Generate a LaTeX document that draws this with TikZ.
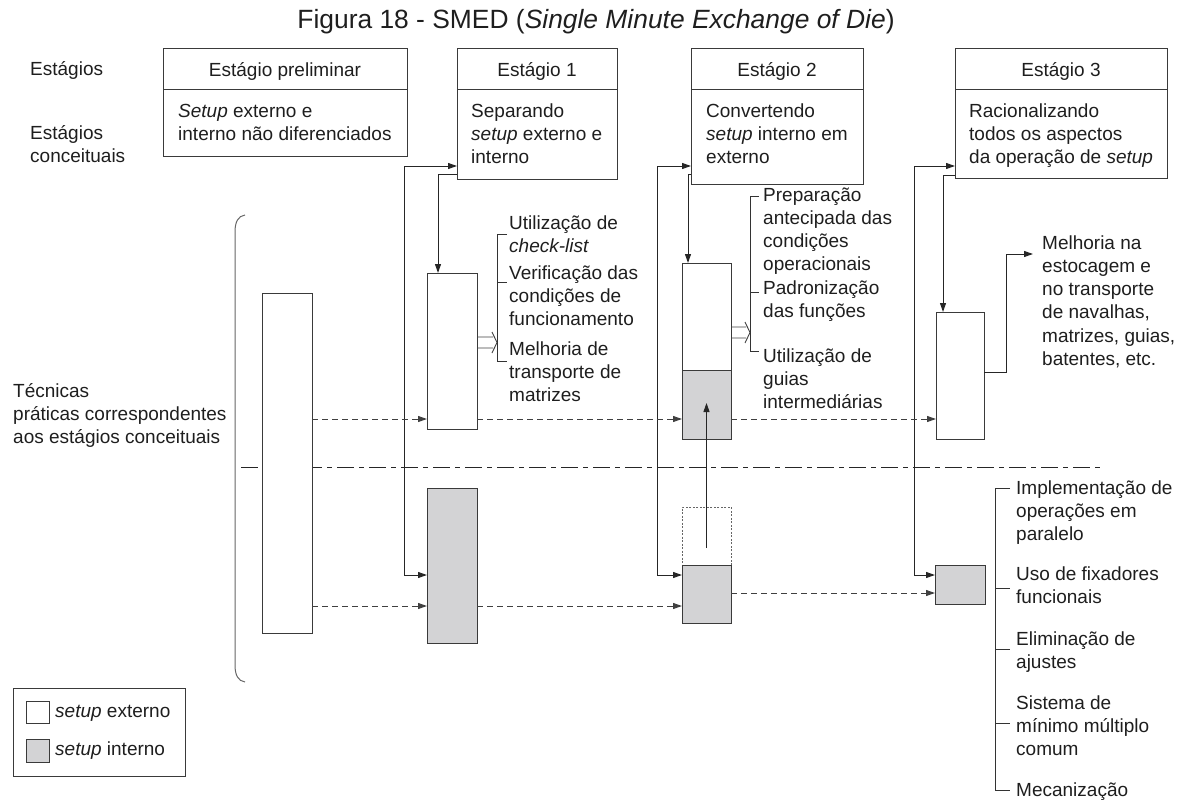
\documentclass[tikz,border=0pt]{standalone}
\usepackage{fontspec}
\setmainfont{Liberation Sans}
\usetikzlibrary{arrows.meta,calc}
\definecolor{ln}{HTML}{3A3A3A}
\definecolor{gfill}{HTML}{D3D3D5}
\definecolor{txc}{HTML}{1E1E1E}
\newcommand\tlines[4]{\foreach \s [count=\i] in {#4} \node[txt] (#1\i) at (#2,#3+23*\i-23) {\s};}
\begin{document}
\begin{tikzpicture}[x=1pt,y=-1pt,
  txt/.style={font=\fontsize{19}{23}\selectfont, text=txc, inner sep=0pt, anchor=base west},
  stagebox/.style={draw=ln, line width=1pt, inner sep=0pt, outer sep=0pt},
  bar/.style={draw=ln, line width=1pt, inner sep=0pt, outer sep=0pt, fill=white},
  gbar/.style={bar, fill=gfill},
  tip/.tip={Triangle[length=9pt,width=6pt]},
  arr/.style={draw=black!85, line width=1pt, -tip},
  biarr/.style={draw=black!85, line width=1pt, tip-tip},
  dsh/.style={draw=black!75, line width=1pt, dash pattern=on 6pt off 4pt, -tip},
  brk/.style={draw=black!80, line width=1pt}]
\useasboundingbox (0,0) rectangle (1183,800);

% title
\node[font=\fontsize{26.4}{30}\selectfont, text=txc, inner sep=0pt, anchor=base] (title) at (596,29)
  {Figura 18 - SMED (\textit{Single Minute Exchange of Die})};

% left labels
\node[txt] (lbE) at (30,75) {Estágios};
\tlines{lbC}{30}{139}{Estágios, conceituais}
\tlines{lbT}{13}{397}{Técnicas, práticas correspondentes, aos estágios conceituais}

% stage boxes
\node[stagebox, minimum width=244pt, minimum height=107pt] (S0) at (285,102.5) {};
\node[stagebox, minimum width=160pt, minimum height=130pt] (S1) at (537,114) {};
\node[stagebox, minimum width=172pt, minimum height=135pt] (S2) at (777,116.5) {};
\node[stagebox, minimum width=212pt, minimum height=129pt] (S3) at (1061,113.5) {};
\foreach \b in {S0,S1,S2,S3} \draw[draw=ln, line width=1pt] (\b.west |- 0,89) -- (\b.east |- 0,89);

\node[txt, anchor=base] (t0) at (285,77) {Estágio preliminar};
\node[txt, anchor=base] (t1) at (537,77) {Estágio 1};
\node[txt, anchor=base] (t2) at (777,77) {Estágio 2};
\node[txt, anchor=base] (t3) at (1061,77) {Estágio 3};
\tlines{b0}{178}{117}{\textit{Setup} externo e, interno não diferenciados}
\tlines{b1}{471}{117}{Separando, \textit{setup} externo e, interno}
\tlines{b2}{706}{117}{Convertendo, \textit{setup} interno em, externo}
\tlines{b3}{969}{117}{Racionalizando, todos os aspectos, da operação de \textit{setup}}

% brace
\draw[draw=black!60, line width=1pt] (245,215) .. controls (238,216) and (235,222) .. (235,232)
  -- (235,665) .. controls (235,675) and (238,681) .. (245,682);

% dash-dot separator
\draw[draw=black!85, line width=1pt, dash pattern=on 17pt off 5pt on 5pt off 5pt] (241,467) -- (1100,467);

% bars
\node[bar, minimum width=50pt, minimum height=340pt] (P) at (287,463) {};
\node[bar, minimum width=50pt, minimum height=156pt] (R1) at (452,351) {};
\node[gbar, minimum width=50pt, minimum height=155pt] (G1) at (452,565.5) {};
\node[bar, minimum width=49pt, minimum height=107pt] (R2) at (706.5,316.5) {};
\node[gbar, minimum width=49pt, minimum height=69pt] (G2a) at (706.5,404.5) {};
\node[draw=black!60, line width=0.8pt, dash pattern=on 2pt off 1.5pt, inner sep=0pt, outer sep=0pt,
  minimum width=49pt, minimum height=58pt] (D2) at (706.5,536) {};
\node[gbar, minimum width=49pt, minimum height=58pt] (G2) at (706.5,594) {};
\node[bar, minimum width=48pt, minimum height=127pt] (R3) at (960,375.5) {};
\node[gbar, minimum width=50pt, minimum height=39pt] (G3) at (960,584.5) {};

% stage connectors
\coordinate (o1a) at (404,166); \coordinate (o1b) at (404,575);
\draw[biarr] (S1.west |- o1a) -- (o1a) -- (o1b) -- (G1.west |- o1b);
\coordinate (i1) at (438,174);
\draw[arr] (S1.west |- i1) -- (i1) -- (i1 |- R1.north);

\coordinate (o2a) at (657,166); \coordinate (o2b) at (657,575);
\draw[biarr] (S2.west |- o2a) -- (o2a) -- (o2b) -- (G2.west |- o2b);
\coordinate (i2) at (688,174);
\draw[arr] (S2.west |- i2) -- (i2) -- (i2 |- R2.north);

\coordinate (o3a) at (914,166); \coordinate (o3b) at (914,575);
\draw[biarr] (S3.west |- o3a) -- (o3a) -- (o3b) -- (G3.west |- o3b);
\coordinate (i3) at (943,175);
\draw[arr] (S3.west |- i3) -- (i3) -- (i3 |- R3.north);

% up arrow (internal converted to external)
\coordinate (up0) at (706.5,548); \coordinate (up1) at (706.5,403);
\draw[arr] (up0) -- (up1);

% dashed flows
\coordinate (dU) at (0,419); \coordinate (dL) at (0,606); \coordinate (dM) at (0,593);
\draw[dsh] (P.east |- dU) -- (R1.west |- dU);
\draw[dsh] (R1.east |- dU) -- (G2a.west |- dU);
\draw[dsh] (G2a.east |- dU) -- (R3.west |- dU);
\draw[dsh] (P.east |- dL) -- (G1.west |- dL);
\draw[dsh] (G1.east |- dL) -- (G2.west |- dL);
\draw[dsh] (G2.east |- dM) -- (G3.west |- dM);

% hollow arrows
\draw[draw=black!75, line width=0.9pt] (R1.east |- 0,337) -- (493,337) (R1.east |- 0,348) -- (493,348)
  (492,332) -- (497,342.5) -- (492,353);
\draw[draw=black!75, line width=0.9pt] (G2a.east |- 0,327) -- (746,327) (G2a.east |- 0,338) -- (746,338)
  (745,322) -- (750,332.5) -- (745,343);

% stage 1 list
\draw[brk] (507,234) -- (497,234) -- (497,361) -- (507,361) (497,282) -- (507,282);
\tlines{la}{509}{229}{Utilização de, \textit{check-list}}
\tlines{lb}{509}{279}{Verificação das, condições de, funcionamento}
\tlines{lc}{509}{355}{Melhoria de, transporte de, matrizes}

% stage 2 list
\draw[brk] (759,196) -- (750,196) -- (750,351) -- (759,351) (750,292) -- (759,292);
\tlines{ma}{763}{201}{Preparação, antecipada das, condições, operacionais}
\tlines{mb}{763}{294}{Padronização, das funções}
\tlines{mc}{763}{362}{Utilização de, guias, intermediárias}

% stage 3 list
\coordinate (s3a) at (1006,372); \coordinate (s3b) at (1006,254); \coordinate (s3c) at (1033,254);
\draw[arr] (R3.east |- s3a) -- (s3a) -- (s3b) -- (s3c);
\foreach \s [count=\i] in {Melhoria na, estocagem e, no transporte, {de navalhas,}, {matrizes, guias,}, {batentes, etc.}}
  \node[txt] (na\i) at (1042,249+23.3*\i-23.3) {\s};

% bottom right list
\draw[brk] (1010,488) -- (995,488) -- (995,790) -- (1010,790)
  (995,588) -- (1010,588) (995,649) -- (1010,649) (995,723) -- (1010,723);
\tlines{pa}{1016}{494}{Implementação de, operações em, paralelo}
\tlines{pb}{1016}{580}{Uso de fixadores, funcionais}
\tlines{pc}{1016}{645}{Eliminação de, ajustes}
\tlines{pd}{1016}{709}{Sistema de, mínimo múltiplo, comum}
\node[txt] (pe) at (1016,796) {Mecanização};

% legend
\node[draw=ln, line width=1pt, inner sep=0pt, minimum width=172pt, minimum height=88pt] (leg) at (99,732) {};
\node[bar, minimum width=23pt, minimum height=22pt] (legW) at (37.5,712) {};
\node[gbar, minimum width=23pt, minimum height=23pt] (legG) at (37.5,750.5) {};
\node[txt] (legWt) at (55,717) {\textit{setup} externo};
\node[txt] (legGt) at (55,755) {\textit{setup} interno};
\end{tikzpicture}
\end{document}
